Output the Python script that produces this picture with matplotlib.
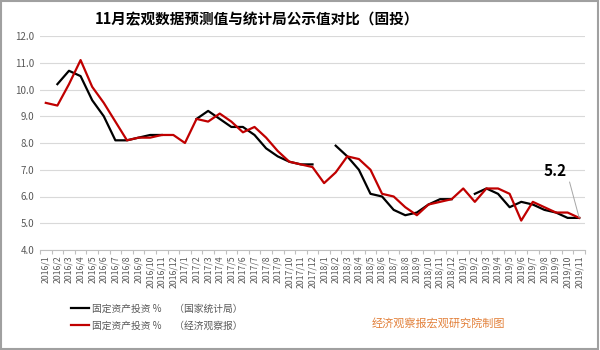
import numpy as np
import matplotlib

matplotlib.use('agg')
import matplotlib.pyplot as plt
from matplotlib.patches import Rectangle

plt.rcParams['font.family'] = ['Noto Sans CJK SC', 'DejaVu Sans']

nan = np.nan
months = ['2016/%d' % m for m in range(1, 13)] + ['2017/%d' % m for m in range(1, 13)] + \
         ['2018/%d' % m for m in range(1, 13)] + ['2019/%d' % m for m in range(1, 12)]

# 国家统计局 公示值
official = [nan, 10.2, 10.7, 10.5, 9.6, 9.0, 8.1, 8.1, 8.2, 8.3, 8.3, nan,
            nan, 8.9, 9.2, 8.9, 8.6, 8.6, 8.3, 7.8, 7.5, 7.3, 7.2, 7.2,
            nan, 7.9, 7.5, 7.0, 6.1, 6.0, 5.5, 5.3, 5.4, 5.7, 5.9, 5.9,
            nan, 6.1, 6.3, 6.1, 5.6, 5.8, 5.7, 5.5, 5.4, 5.2, 5.2]
# 经济观察报 预测值
forecast = [9.5, 9.4, 10.2, 11.1, 10.1, 9.5, 8.8, 8.1, 8.2, 8.2, 8.3, 8.3,
            8.0, 8.9, 8.8, 9.1, 8.8, 8.4, 8.6, 8.2, 7.7, 7.3, 7.2, 7.1,
            6.5, 6.9, 7.5, 7.4, 7.0, 6.1, 6.0, 5.6, 5.3, 5.7, 5.8, 5.9,
            6.3, 5.8, 6.3, 6.3, 6.1, 5.1, 5.8, 5.6, 5.4, 5.4, 5.2]
yticks = [4.0, 5.0, 6.0, 7.0, 8.0, 9.0, 10.0, 11.0, 12.0]
last_label = '5.2'

fig = plt.figure(figsize=(6, 3.5), dpi=100)
ax = fig.add_axes([40 / 600, 1 - 250 / 350, 545 / 600, 214 / 350])

x = np.arange(len(months))
ax.plot(x, official, color='#000000', lw=1.6, label='固定资产投资 %      （国家统计局）')
ax.plot(x, forecast, color='#C00000', lw=1.6, label='固定资产投资 %      （经济观察报）')

ax.set_xlim(-0.5, len(months) - 0.5)
ax.set_ylim(4, 12)
ax.set_yticks(yticks)
ax.set_yticklabels(['%.1f' % v for v in yticks])
ax.set_xticks(x)
ax.set_xticklabels(months, rotation=90)
ax.set_xticks(np.arange(len(months) + 1) - 0.5, minor=True)
ax.tick_params(axis='x', which='major', length=0, pad=4, labelsize=6.3, colors='#595959')
ax.tick_params(axis='x', which='minor', length=3, color='#BFBFBF', width=0.8)
ax.tick_params(axis='y', length=0, pad=4, labelsize=7, colors='#595959')
ax.grid(axis='y', color='#D9D9D9', lw=0.8)
ax.set_axisbelow(True)
for s in ['left', 'right', 'top']:
    ax.spines[s].set_visible(False)
ax.spines['bottom'].set_color('#BFBFBF')
ax.spines['bottom'].set_linewidth(0.8)

ax.annotate(last_label, xy=(x[-1], forecast[-1]), xytext=(43.9, 6.95),
            ha='center', va='center', fontsize=11, fontweight='bold',
            arrowprops=dict(arrowstyle='-', color='#A6A6A6', lw=0.7,
                            relpos=(1.0, 0.55), shrinkA=1, shrinkB=0))

fig.text(257 / 600, 1 - 19 / 350, '11月宏观数据预测值与统计局公示值对比（固投）',
         ha='center', va='center', fontsize=10.5, fontweight='bold')

fig.legend(loc='center left', bbox_to_anchor=(71 / 600, 1 - 317 / 350), frameon=False,
           fontsize=7, handlelength=1.85, handletextpad=0.3, labelspacing=0.75,
           borderpad=0, borderaxespad=0, labelcolor='#595959')

fig.text(438 / 600, 1 - 323 / 350, '经济观察报宏观研究院制图', ha='center', va='center',
         fontsize=8, color='#E2803A')

fig.patches.append(Rectangle((0.002, 0.003), 0.994, 0.994, transform=fig.transFigure,
                             fill=False, edgecolor='#A0A0A0', lw=1.5))

fig.savefig('out.png', dpi=100)
